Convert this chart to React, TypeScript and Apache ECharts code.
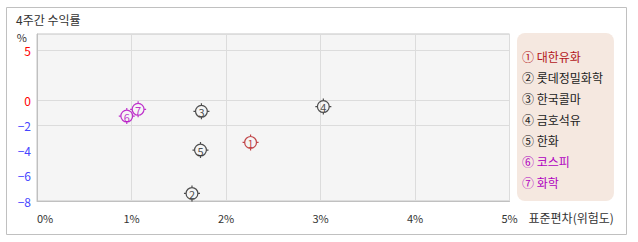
import React, { useEffect, useRef } from "react";
import * as echarts from "echarts";

const names = ["대한유화", "롯데정밀화학", "한국콜마", "금호석유", "한화", "코스피", "화학"];
const marks = ["①", "②", "③", "④", "⑤", "⑥", "⑦"];
const xValues = [2.26, 1.64, 1.74, 3.03, 1.73, 0.95, 1.07];
const yValues = [-3.36, -7.4, -0.9, -0.52, -3.97, -1.27, -0.74];
const colors = ["#b3161a", "#222222", "#222222", "#222222", "#222222", "#b000c0", "#b000c0"];
const yTickLabels = [5, 0, -2, -4, -6, -8];
const yGridValues = [5, 0, -2];
const xTicks = [0, 1, 2, 3, 4, 5];

// positive side of the reference axis is compressed (10px/unit vs 12.625px/unit)
const POS_SCALE = 10 / 12.625;
const toAxis = (v: number) => (v > 0 ? v * POS_SCALE : v);
const fromAxis = (v: number) => (v > 0 ? Math.round(v / POS_SCALE) : Math.round(v));

const FONT = "'Noto Sans CJK KR', 'Noto Sans', sans-serif";
const MARKER =
  "path://M1.5,8 A6.5,6.5 0 1,1 14.5,8 A6.5,6.5 0 1,1 1.5,8 Z M2.7,8 A5.3,5.3 0 1,0 13.3,8 A5.3,5.3 0 1,0 2.7,8 Z " +
  "M7.4,0 H8.6 V1.7 H7.4 Z M7.4,14.3 H8.6 V16 H7.4 Z M0,7.4 H1.7 V8.6 H0 Z M14.3,7.4 H16 V8.6 H14.3 Z";

export default function App() {
  const ref = useRef<HTMLDivElement>(null);
  useEffect(() => {
    if (!ref.current) return;
    const chart = echarts.init(ref.current, null, { renderer: "svg" });
    const series = names.map((n, i) => ({
      name: marks[i] + " " + n,
      type: "scatter",
      data: [[xValues[i], toAxis(yValues[i])]],
      symbol: MARKER,
      symbolSize: 16,
      itemStyle: { color: colors[i] },
      label: {
        show: true,
        position: "inside",
        formatter: String(i + 1),
        color: colors[i],
        fontSize: 11,
        fontFamily: FONT,
        offset: [0, 0.5],
      },
      emphasis: { disabled: true },
    }));
    chart.setOption({
      animation: false,
      textStyle: { fontFamily: FONT },
      title: {
        text: "4주간 수익률",
        left: 16,
        top: 13,
        padding: 0,
        textStyle: { fontSize: 12, fontWeight: "normal", color: "#333", fontFamily: FONT },
      },
      graphic: [
        {
          type: "rect",
          z: -10,
          silent: true,
          shape: { x: 6.5, y: 7.5, width: 620, height: 227 },
          style: { fill: "transparent", stroke: "#c0c0c0", lineWidth: 1 },
        },
      ],
      grid: {
        left: 37,
        right: 128.5,
        top: 34,
        bottom: 41,
        show: true,
        backgroundColor: "#f5f5f5",
        borderColor: "#c4c4c4",
        borderWidth: 1,
      },
      legend: {
        orient: "vertical",
        left: 517,
        top: 33,
        padding: [16, 11, 12, 0],
        itemWidth: 0,
        itemHeight: 14,
        itemGap: 7,
        selectedMode: false,
        backgroundColor: "#f5e8e0",
        borderRadius: 8,
        textStyle: { fontSize: 12, lineHeight: 14, fontFamily: FONT },
        data: names.map((n, i) => ({
          name: marks[i] + " " + n,
          icon: "none",
          textStyle: { color: colors[i] },
        })),
      },
      xAxis: {
        type: "value",
        min: xTicks[0],
        max: xTicks[xTicks.length - 1],
        interval: 1,
        name: "표준편차(위험도)",
        nameLocation: "end",
        nameGap: 19,
        nameMoveOverlap: false,
        nameTextStyle: { fontSize: 12, color: "#333", align: "left", verticalAlign: "top", padding: [10, 0, 0, 0], fontFamily: FONT },
        axisLine: { show: true, onZero: false, lineStyle: { color: "#c0c0c0" } },
        axisTick: { show: false },
        splitLine: { show: true, lineStyle: { color: "#dcdcdc" } },
        axisLabel: {
          formatter: "{value}%",
          color: "#333",
          fontSize: 11,
          margin: 11,
          alignMinLabel: "left",
          fontFamily: FONT,
        },
      },
      yAxis: [
        {
          type: "value",
          min: -8,
          max: 66 / 12.625,
          name: "%",
          nameLocation: "end",
          nameGap: -3,
          nameMoveOverlap: false,
          nameTextStyle: { fontSize: 11, color: "#333", align: "right", verticalAlign: "middle", padding: [0, 10, 0, 0] },
          axisLine: { show: true, onZero: false, lineStyle: { color: "#c0c0c0" } },
          axisTick: { show: false, customValues: yGridValues.map(toAxis) },
          splitLine: { show: true, lineStyle: { color: "#dcdcdc" } },
          axisLabel: {
            customValues: yTickLabels.map(toAxis),
            formatter: (v: number) => {
              const d = fromAxis(v);
              return d < 0 ? "\u2212" + Math.abs(d) : String(d);
            },
            color: (v: any) => (Number(v) >= 0 ? "#ff0000" : "#4646ff"),
            fontSize: 12,
            margin: 6,
            fontFamily: FONT,
          },
        },
      ],
      series,
    });
    return () => chart.dispose();
  }, []);
  return <div ref={ref} style={{ position: "absolute", left: 0, top: 0, width: 638, height: 242 }} />;
}
